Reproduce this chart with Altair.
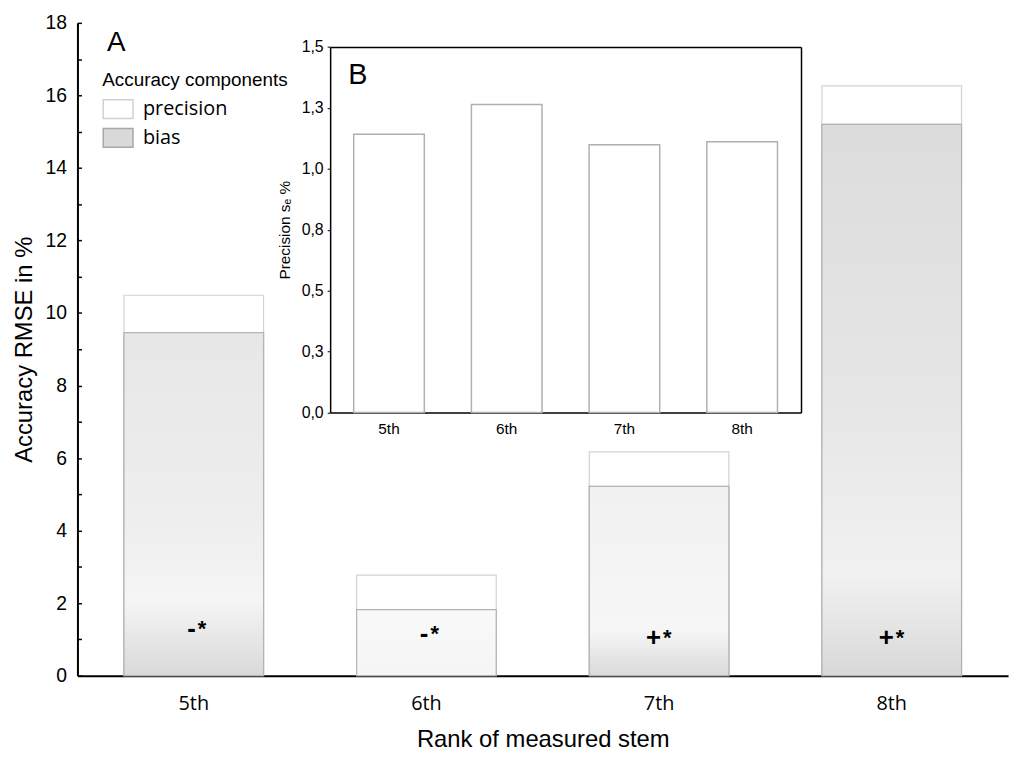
import altair as alt
import pandas as pd

# ---- data ----
ranks = ["5th", "6th", "7th", "8th"]
bias_vals = [9.46, 1.82, 5.22, 15.20]          # bias component (lower part)
rmse_vals = [10.49, 2.77, 6.17, 16.26]         # total accuracy RMSE (top of bar)
precision_se = [1.142, 1.264, 1.099, 1.111]    # inset B
signs = ["-", "-", "+", "+"]
sign_levels = [1.29, 1.15, 1.045, 1.045]
components = ["precision", "bias"]
main_ticks = [0, 2, 4, 6, 8, 10, 12, 14, 16, 18]
minor_ticks = list(range(0, 19))
inset_ticks = [0, 0.25, 0.5, 0.75, 1.0, 1.25, 1.5]

W, H = 938, 658
TOP = 12
FONT = "Liberation Sans"
FONT2 = "Open Sans"

rows = []
for r, b, t in zip(ranks, bias_vals, rmse_vals):
    rows.append({"rank": r, "component": "bias", "lo": 0.0, "hi": b})
    rows.append({"rank": r, "component": "precision", "lo": b, "hi": t})
seg_df = pd.DataFrame(rows)
ann_df = pd.DataFrame({"rank": ranks, "sign": signs, "level": sign_levels})
inset_df = pd.DataFrame({"rank": ranks, "se": precision_se})
a_df = pd.DataFrame({"rank": ["5th"], "lo": [17.23], "lab": ["A"]})
b_df = pd.DataFrame({"rank": ["5th"], "se": [1.385], "lab": ["B"]})

grads = {
    "5th": [(0, "#e7e7e7"), (0.55, "#eeeeee"), (0.78, "#f5f5f5"), (1, "#d9d9d9")],
    "6th": [(0, "#f9f9f9"), (1, "#f5f5f5")],
    "7th": [(0, "#f1f1f1"), (0.6, "#f5f5f5"), (0.76, "#f6f6f6"), (1, "#dadada")],
    "8th": [(0, "#dcdcdc"), (0.5, "#e6e6e6"), (0.82, "#f1f1f1"), (1, "#d8d8d8")],
}

main_xscale = alt.Scale(domain=ranks, paddingInner=0.4, paddingOuter=0.2)
main_yscale = alt.Scale(domain=[0, 18], nice=False)

main_xaxis = alt.Axis(orient="bottom", title="Rank of measured stem", labelAngle=0,
                      labelFont=FONT2, labelFontSize=20, labelColor="black",
                      labelPadding=18, ticks=False, tickSize=0,
                      domainColor="black", domainWidth=2,
                      titleFont=FONT, titleFontSize=24, titleFontWeight="normal",
                      titleColor="black", titleY=71.5, titleBaseline="alphabetic")
main_yaxis = alt.Axis(orient="left", title="Accuracy RMSE in %", values=main_ticks,
                      format="d", labelFont=FONT, labelFontSize=19.5, labelColor="black",
                      labelPadding=11, ticks=False, tickSize=0, grid=False,
                      domainColor="black", domainWidth=2,
                      titleFont=FONT, titleFontSize=24, titleFontWeight="normal",
                      titleColor="black", titleX=-46, titleBaseline="alphabetic")

X_main = alt.X("rank:N", sort=ranks, scale=main_xscale, axis=main_xaxis)
Y_main = alt.Y("lo:Q", scale=main_yscale, axis=main_yaxis)

legend = alt.Legend(title="Accuracy components", orient="none", legendX=25, legendY=49,
                    titleFont=FONT, titleFontSize=19, titleFontWeight="normal",
                    titleColor="black", titlePadding=3, titleLimit=400, labelFont=FONT2,
                    labelFontSize=20, labelColor="black", labelOffset=9, labelLimit=300,
                    symbolType="M-1,-0.63H1V0.63H-1Z", symbolSize=900,
                    symbolStrokeWidth=1.5, symbolOpacity=1, rowPadding=0, padding=0)

seg = alt.Chart(seg_df).mark_bar(strokeWidth=1.2).encode(
    x=X_main,
    y=Y_main,
    y2="hi:Q",
    fill=alt.Fill("component:N", sort=components,
                  scale=alt.Scale(domain=components, range=["#ffffff", "#d9d9d9"]),
                  legend=legend),
    stroke=alt.Stroke("component:N", sort=components,
                      scale=alt.Scale(domain=components, range=["#d2d2d2", "#a8a8a8"]),
                      legend=legend),
)

bias_layers = []
for r in ranks:
    g = {"gradient": "linear", "x1": 0, "y1": 0, "x2": 0, "y2": 1,
         "stops": [{"offset": o, "color": c} for o, c in grads[r]]}
    bias_layers.append(
        alt.Chart(seg_df)
        .transform_filter((alt.datum.rank == r) & (alt.datum.component == "bias"))
        .mark_bar(fill=g, stroke="#b4b4b4", strokeWidth=1.2)
        .encode(x=X_main, y=Y_main, y2="hi:Q")
    )

a_label = alt.Chart(a_df).mark_text(font=FONT, fontSize=28, align="left",
                                    baseline="alphabetic", dx=-17, color="black").encode(
    x=alt.X("rank:N", sort=ranks, scale=main_xscale, axis=main_xaxis, bandPosition=0),
    y=Y_main,
    text="lab:N",
)

main_layer = alt.layer(seg, *bias_layers, a_label)

# annotations (+ inward minor ticks of the main y axis)
ann_y = alt.Y("level:Q", scale=alt.Scale(domain=[0, 18], nice=False),
              axis=alt.Axis(orient="right", offset=-W, values=minor_ticks, labels=False,
                            domain=False, ticks=True, tickSize=4, tickWidth=1.5,
                            tickColor="black", grid=False, title=""))
ann_x = alt.X("rank:N", sort=ranks, scale=main_xscale, axis=None)
sign_txt = alt.Chart(ann_df).mark_text(font=FONT, fontSize=26, fontWeight="bold",
                                       align="right", baseline="middle", dx=2,
                                       color="black").encode(x=ann_x, y=ann_y, text="sign:N")
star_txt = alt.Chart(ann_df).mark_text(font=FONT, fontSize=22, fontWeight="bold",
                                       align="left", baseline="middle", dx=4,
                                       color="black").encode(
    x=ann_x, y=ann_y, text=alt.value("*"))
ann_layer = alt.layer(sign_txt, star_txt)

# inset B (pixel range inside the plot area)
IN_TOP = 44.3 - (8 + TOP)
IN_BOT = 412.7 - (8 + TOP)
inset_xscale = alt.Scale(domain=ranks, range=[254.7, 729.3], paddingInner=0.4, paddingOuter=0.2)
inset_yscale = alt.Scale(domain=[0, 1.5], range=[IN_BOT, IN_TOP], nice=False)

inset = alt.Chart(inset_df).mark_bar(fill="white", stroke="#b0b0b0", strokeWidth=1.5).encode(
    x=alt.X("rank:N", sort=ranks, scale=inset_xscale,
            axis=alt.Axis(orient="bottom", offset=-(H - IN_BOT), title="", labelAngle=0,
                          labelFont=FONT, labelFontSize=15.5, labelColor="black",
                          labelPadding=9, ticks=False, tickSize=0,
                          domainColor="black", domainWidth=1.5)),
    y=alt.Y("se:Q", scale=inset_yscale,
            axis=alt.Axis(orient="left", offset=-254.7, values=inset_ticks,
                          labelExpr="replace(format(datum.value, '.1f'), '.', ',')",
                          labelFont=FONT, labelFontSize=16, labelColor="black",
                          labelPadding=4, ticks=True, tickSize=3, tickColor="black",
                          domainColor="black", domainWidth=1.5, grid=False,
                          title="Precision sₑ %", titleFont=FONT, titleFontSize=15.5,
                          titleFontWeight="normal", titleColor="black",
                          titleX=-41, titleBaseline="alphabetic")),
)

inset_b = alt.Chart(b_df).mark_text(font=FONT, fontSize=29, align="left",
                                    baseline="middle", dx=-41, color="black").encode(
    x=alt.X("rank:N", sort=ranks, scale=inset_xscale,
            axis=alt.Axis(orient="top", offset=-IN_TOP, labels=False, ticks=False,
                          domainColor="black", domainWidth=1.5, title="")),
    y=alt.Y("se:Q", scale=inset_yscale,
            axis=alt.Axis(orient="right", offset=-(W - 729.3), labels=False, ticks=False,
                          grid=False, domainColor="black", domainWidth=1.5, title="")),
    text="lab:N",
)

chart = (
    alt.layer(main_layer, ann_layer, inset, inset_b)
    .resolve_scale(x="independent", y="independent")
    .properties(width=W, height=H,
                padding={"left": 70, "top": TOP, "right": 8, "bottom": 78},
                autosize=alt.AutoSizeParams(type="none"))
    .configure_view(strokeWidth=0)
)

chart.save("out.html", embed_options={"renderer": "svg", "actions": False})
